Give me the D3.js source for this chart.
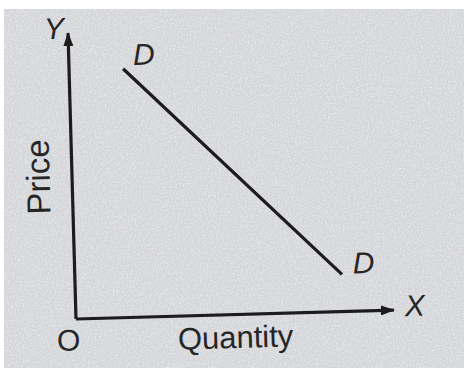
<!DOCTYPE html>
<html>
<head>
<meta charset="utf-8">
<script src="https://cdn.jsdelivr.net/npm/d3@7/dist/d3.min.js"></script>
<style>
  html, body { margin: 0; padding: 0; background: #ffffff; }
  svg { display: block; }
  text { font-family: "Liberation Sans", Arial, sans-serif; fill: #262626; }
</style>
</head>
<body>
<script>
// Demand schedule: two end points of the straight demand curve D–D
const quantity = [17, 84];
const price = [87, 13];
const curveLabels = ["D", "D"];

// Axis names and letters
const xAxisTitle = "Quantity";
const yAxisTitle = "Price";
const axisLetters = ["X", "Y", "O"];

const W = 468, H = 374;
const svg = d3.select("body").append("svg")
  .attr("width", W).attr("height", H);

// paper texture
const defs = svg.append("defs");
const grain = defs.append("filter").attr("id", "grain")
  .attr("x", 0).attr("y", 0).attr("width", "100%").attr("height", "100%");
grain.append("feTurbulence").attr("type", "fractalNoise")
  .attr("baseFrequency", 0.6).attr("numOctaves", 2).attr("seed", 4).attr("result", "n");
grain.append("feColorMatrix").attr("in", "n").attr("type", "matrix")
  .attr("values", "0 0 0 0 1  0 0 0 0 1  0 0 0 0 1  0 0 0 1.8 -0.75");

svg.append("rect").attr("x", 4).attr("y", 9).attr("width", 460).attr("height", 359)
  .attr("fill", "#d5d6d9");
svg.append("rect").attr("x", 4).attr("y", 9).attr("width", 460).attr("height", 359)
  .attr("filter", "url(#grain)").attr("opacity", 0.6);

// arrow heads
const marker = defs.append("marker").attr("id", "arrow")
  .attr("viewBox", "0 0 14 10").attr("refX", 13).attr("refY", 5)
  .attr("markerWidth", 14).attr("markerHeight", 10)
  .attr("markerUnits", "userSpaceOnUse").attr("orient", "auto");
marker.append("path").attr("d", "M0,0 L14,5 L0,10 Z").attr("fill", "#1c1c1c");

// plot frame, origin at O, drawn slightly tilted
const origin = [76, 319];
const xLen = 318, yLen = 286;
const g = svg.append("g")
  .attr("transform", `translate(${origin[0]},${origin[1]}) rotate(-1.6)`);

const x = d3.scaleLinear().domain([0, 100]).range([0, xLen]);
const y = d3.scaleLinear().domain([0, 100]).range([0, -yLen]);

const ink = "#1c1c1c";

// axes
g.append("line").attr("x1", x(0)).attr("y1", y(0)).attr("x2", x(0)).attr("y2", y(100))
  .attr("stroke", ink).attr("stroke-width", 3.2).attr("marker-end", "url(#arrow)");
g.append("line").attr("x1", x(0)).attr("y1", y(0)).attr("x2", x(100)).attr("y2", y(0))
  .attr("stroke", ink).attr("stroke-width", 3.2).attr("marker-end", "url(#arrow)");

// demand curve
const pts = quantity.map((q, i) => [x(q), y(price[i])]);
g.append("path").attr("d", d3.line()(pts))
  .attr("fill", "none").attr("stroke", ink).attr("stroke-width", 3.2)
  .attr("stroke-linecap", "butt");

const letter = (txt, px, py, italic) => g.append("text")
  .attr("x", px).attr("y", py)
  .attr("text-anchor", "middle").attr("dominant-baseline", "central")
  .attr("font-size", 30).attr("font-style", italic ? "italic" : "normal")
  .attr("fill", "#303030")
  .text(txt);

// curve end labels
letter(curveLabels[0], pts[0][0] + 21, pts[0][1] - 14, true);
letter(curveLabels[1], pts[1][0] + 22, pts[1][1] - 11, true);

// axis letters
letter(axisLetters[0], x(100) + 21, y(0) - 4, true);
letter(axisLetters[1], x(0) - 14, y(100) - 5, true);
letter(axisLetters[2], x(0) - 8, y(0) + 21, false);

// axis titles
g.append("text").attr("x", x(50)).attr("y", y(0) + 23)
  .attr("text-anchor", "middle").attr("dominant-baseline", "central")
  .attr("font-size", 31).text(xAxisTitle);
g.append("text")
  .attr("transform", `translate(${x(0) - 34},${y(50)}) rotate(-90)`)
  .attr("text-anchor", "middle").attr("dominant-baseline", "central")
  .attr("font-size", 33).text(yAxisTitle);
</script>
</body>
</html>
